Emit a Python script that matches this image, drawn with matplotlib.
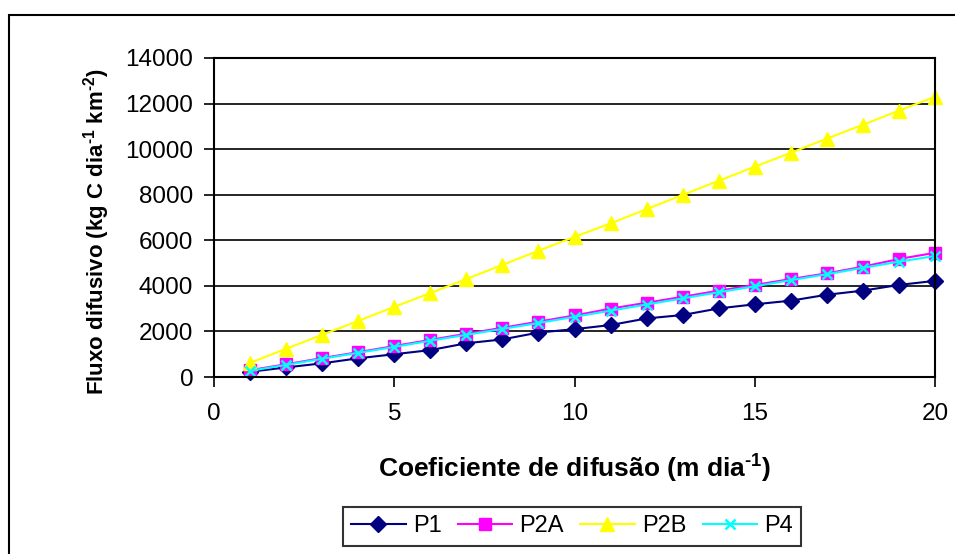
import matplotlib
matplotlib.use("Agg")
import matplotlib.pyplot as plt
from matplotlib.patches import Rectangle

plt.rcParams['font.family'] = ['Liberation Sans', 'DejaVu Sans']
plt.rcParams['mathtext.fontset'] = 'custom'
plt.rcParams['mathtext.rm'] = 'Liberation Sans'
plt.rcParams['mathtext.bf'] = 'Liberation Sans:bold'

x = list(range(1, 21))
p1 = [230, 420, 600, 820, 1000, 1180, 1480, 1650, 1950, 2100,
      2280, 2570, 2720, 3010, 3190, 3350, 3610, 3790, 4040, 4220]
p2a = [300, 560, 830, 1090, 1360, 1630, 1900, 2160, 2430, 2700,
       3000, 3260, 3520, 3790, 4040, 4300, 4550, 4840, 5180, 5450]
p2b = [620, 1240, 1850, 2460, 3080, 3680, 4300, 4920, 5540, 6150,
       6740, 7370, 7990, 8610, 9230, 9840, 10460, 11070, 11690, 12300]
p4 = [270, 530, 800, 1060, 1320, 1590, 1850, 2110, 2370, 2640,
      2910, 3180, 3450, 3720, 3980, 4250, 4510, 4790, 5060, 5310]
series_names = ['P1', 'P2A', 'P2B', 'P4']
xticks = [0, 5, 10, 15, 20]
yticks = [0, 2000, 4000, 6000, 8000, 10000, 12000, 14000]

fig = plt.figure(figsize=(9.55, 5.54), dpi=100)
fig.patches.append(Rectangle((9/955, -0.1), 1.2, 1 - 15/554 + 0.1, transform=fig.transFigure,
                             fill=False, edgecolor='black', linewidth=1.5))
ax = fig.add_axes([214/955, 1 - 377/554, (935 - 214)/955, (377 - 58)/554])

styles = [
    dict(color='#000080', marker='D', markersize=8),
    dict(color='#FF00FF', marker='s', markersize=8),
    dict(color='#FFFF00', marker='^', markersize=9.5),
    dict(color='#00FFFF', marker='x', markersize=7, markeredgewidth=1.8),
]
for data, name, st in zip([p1, p2a, p2b, p4], series_names, styles):
    ax.plot(x, data, label=name, linewidth=1.5, clip_on=False, **st)

ax.set_xlim(0, 20)
ax.set_ylim(0, 14000)
ax.set_xticks(xticks)
ax.set_yticks(yticks)
ax.yaxis.grid(True, color='black', linewidth=1.2)
ax.set_axisbelow(True)
ax.tick_params(direction='out', length=7, width=1.2, labelsize=17.5, colors='black')
ax.tick_params(axis='x', pad=12)
ax.tick_params(axis='y', pad=8)
for s in ax.spines.values():
    s.set_linewidth(1.5)
    s.set_color('black')

ax.set_xlabel('Coeficiente de difusão (m dia$^{\\mathbf{\u20101}}$)', fontsize=19, fontweight='bold')
ax.set_ylabel('Fluxo difusivo (kg C dia$^{\\mathbf{\u20101}}$ km$^{\\mathbf{\u20102}}$)', fontsize=16, fontweight='bold')
ax.xaxis.set_label_coords(0.5, -0.232)
ax.yaxis.set_label_coords(-0.142, 0.455)

leg = fig.legend(loc='upper center', bbox_to_anchor=(572/955, 1 - 507/554), ncol=4,
                 fontsize=17, frameon=True, fancybox=False, edgecolor='black',
                 handlelength=2.3, columnspacing=0.7, handletextpad=0.3, borderpad=0.35,
                 borderaxespad=0)
leg.get_frame().set_linewidth(1.5)

fig.savefig('out.png', dpi=100)
